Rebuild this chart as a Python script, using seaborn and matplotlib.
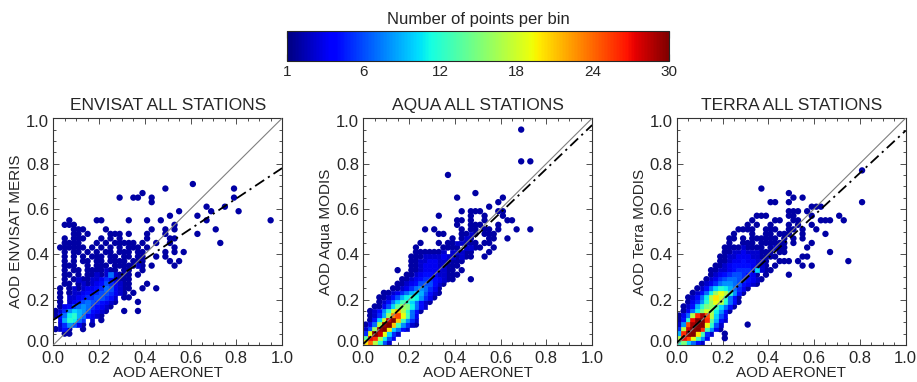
import matplotlib
matplotlib.use("Agg")
import matplotlib.pyplot as plt
from matplotlib.colors import Normalize
from matplotlib.cm import ScalarMappable
from matplotlib.ticker import MultipleLocator
from matplotlib.transforms import offset_copy
import pandas as pd
import seaborn as sns

BIN = 0.02
JET = matplotlib.colormaps["jet"]

# binned scatter, rows go from the highest y bin down to y bin 0,
# one character per x bin: '.' = empty, else base-36 digit = points in the bin
envisat_rows = [
    ".......... .......... .......... 1",
    ".......... .......... ....1..... .........1",
    ".......... .........1",
    ".......... ....1..11. .1........ .........1",
    ".......... .......... .1",
    ".......... .......... .......... ...1...1",
    ".......... .......... .......1.. ....1..... 1",
    ".......... .......... .....1.... .1",
    "...1.....1 1.....1... 1..1...... ...1...... .......1",
    "..111..... .......... ......1",
    "....111... .1........ .1..1.1... .....1",
    "....11.1.. ..111.1... 1...1..... .1",
    "..1.111... 1.1.1..... 1....11",
    "..1111...1 .1.11111.1 ..1..1.... ......1",
    ".111111.1. 1.1.1.111. 1.....1",
    "..1.11.1.1 .11.111.11 ....1.1.1",
    "..1.1.1.11 1.11.11.11 ..1.1",
    "..1.1.11.1 1.1111.111 .....1.1",
    "..111..1.1 11.1111121 .1....1",
    "..1.11.111 1211.11..1",
    "..11.1.112 1272111.1",
    "..1.121122 3542111",
    "..11.12123 4653211... 1",
    ".1.1212334 5763211..1 ..1",
    ".1.1223445 665321.1",
    ".1.2234556 6542.11",
    ".1.2346765 4321....1",
    ".134678754 321",
    "1258a98643 21...1..1",
    "147bc97432 1",
    ".39cb75.2. 1",
    ".258631.1",
    "1241..1",
    "..11",
    "",
    "",
]

aqua_rows = [
    ".......... .......... .......... ....1",
    "", "", "", "", "", "",
    ".......... .......... .......... ....1.1",
    "", "",
    ".......... ........1",
    "", "", "",
    ".......... .......... ....1",
    ".......... .......... 1......... 1",
    ".......... .......... .........1",
    ".......... .......... .......1",
    ".......... .......... .1.111...1 1",
    ".......... ......1... ...1..1... 1",
    ".......... .......... 11.1..1... .11",
    ".......... .......... 1..111...1",
    ".......... ...1.1.... .1.11.11.1 ...1..1",
    ".......... ......11.. .1121.111",
    ".......... .........1 .121...11. .1",
    ".......... ..1...1.11 22111.11",
    ".......... .1.....111 1.2211..1",
    ".......... .1111112.2 2211...1",
    ".......... 1112222322 1211..1",
    ".......... 1122332211 11",
    ".......... 1123332211 1",
    ".......1.. 1123332211 .1",
    ".........1 1234432211 1",
    "........11 2345543211 ...1",
    ".......112 34666421",
    "......1123 5787531",
    "....112357 9a96421",
    "...112469b cb8531",
    "...1247adc a7421",
    "..1136aegf b742",
    ".1248cilhc 741",
    ".1259gnpjd 73",
    ".14aisuld8 52",
    "137htuld85 21",
    "26gtuka742",
    "5jusja52",
    "erqhb63",
    "kohc62",
]

terra_rows = [
    ".......... .......... .......... .......... 1",
    "", "", "",
    ".......... ........1",
    ".......... .......... ....1",
    ".......... .......... .....1.1",
    ".......... .......... 11..1..... .......... 1",
    ".......... .......... .........1 11",
    ".......... .......... ....111.1",
    ".......... .......111 ....11...1 .....1",
    ".......... ......1... .11..11... .111..1",
    ".......... .....1.1.. 1...1.1..1",
    ".......... ...1111..1 11..11.1.. 1",
    ".......... ..1...1..1 1.111..1.. ..1",
    ".......... .11.1.1111 11.1.1.1",
    ".......... .1..111.11 1111.1...1",
    ".......... 111121111. 1211....1",
    ".......... 1122322211 1.11...... ...1",
    ".........1 1223332211 11.....11",
    ".........1 1233433221 ..111.1... .......1",
    "........11 2344443221 .1.....1.1",
    ".......112 2345554a21 1",
    ".......123 45665431.1 ....1",
    "......1235 677654321",
    ".....12357 88764321",
    "....1247ac b97531",
    "...1247bgj hc841",
    "..1247bhki c741",
    "..1358cgjh c741",
    ".1249cfgda 741",
    ".137bfigb8 41",
    "137hqtpha6 3",
    "14cruuqe94 2",
    "28ptuujc62 .....1",
    "5hsuuqd831",
    "9quukd52.. 1",
    "hrpjd83... 1",
    "cfa742",
]

titles = ["ENVISAT ALL STATIONS", "AQUA ALL STATIONS", "TERRA ALL STATIONS"]
ylabels = ["AOD ENVISAT MERIS", "AOD Aqua MODIS", "AOD Terra MODIS"]
xlabel = "AOD AERONET"
fit_intercept = [0.11, 0.005, 0.01]
fit_slope = [0.67, 0.965, 0.935]
axis_ticks = [0.0, 0.2, 0.4, 0.6, 0.8, 1.0]

cbar_ticks = [0, 6, 12, 18, 24, 30]
cbar_labels = ["1", "6", "12", "18", "24", "30"]


def grid_to_frame(rows):
    recs = []
    n = len(rows)
    for k, row in enumerate(rows):
        j = n - 1 - k
        for i, ch in enumerate(row.replace(" ", "")):
            if ch != ".":
                recs.append(((i + 0.5) * BIN, (j + 0.5) * BIN, int(ch, 36)))
    return pd.DataFrame(recs, columns=["aeronet", "satellite", "count"])


def draw_panel(fig, ax, df, title, ylabel, b, m):
    df = df.sort_values("count")
    single = df[df["count"] == 1]
    multi = df[df["count"] > 1]
    sns.scatterplot(data=single, x="aeronet", y="satellite", hue="count", palette=JET,
                    hue_norm=(0, 30), marker="o", s=21, linewidth=0, legend=False, ax=ax)
    sns.scatterplot(data=multi, x="aeronet", y="satellite", hue="count", palette=JET,
                    hue_norm=(0, 30), marker="s", s=11, linewidth=0.5, edgecolor="face",
                    legend=False, ax=ax)
    ax.axline((0, 0), slope=1, color="#808080", lw=0.8, zorder=3)
    ax.axline((0, b), slope=m, color="black", lw=1.3, ls=(0, (6, 2.5, 1.2, 2.5)), zorder=4)

    ax.set_xlim(0, 1)
    ax.set_ylim(0, 1)
    ax.set_xticks(axis_ticks, [f"{t:.1f}" for t in axis_ticks])
    ax.set_yticks(axis_ticks, [f"{t:.1f}" for t in axis_ticks])
    ax.xaxis.set_minor_locator(MultipleLocator(0.05))
    ax.yaxis.set_minor_locator(MultipleLocator(0.05))
    ax.tick_params(which="both", direction="in", top=True, right=True, width=0.6,
                   color="#333333", labelsize=12)
    ax.tick_params(which="major", length=4, pad=3)
    ax.tick_params(axis="x", which="major", pad=4)
    ax.tick_params(which="minor", length=2.5)
    # nudge the end labels inward a little, like the original
    yt = ax.yaxis.get_major_ticks()
    lab0 = yt[0].label1
    lab0.set_transform(offset_copy(lab0.get_transform(), fig=fig, y=4, units="dots"))
    lab1 = yt[-1].label1
    lab1.set_transform(offset_copy(lab1.get_transform(), fig=fig, y=-3, units="dots"))
    for sp in ax.spines.values():
        sp.set_color("#333333")
        sp.set_linewidth(0.8)
    ax.set_title(title, fontsize=12.5, pad=6)
    ax.set_xlabel(xlabel, fontsize=11, labelpad=0)
    ax.set_ylabel(ylabel, fontsize=11, labelpad=2)


def main():
    sns.set_style("ticks")
    plt.rcParams["font.family"] = ["Liberation Sans", "DejaVu Sans"]

    fig = plt.figure(figsize=(9.17, 3.82), dpi=100)
    lefts = [0.0581, 0.3962, 0.738]
    frames = [grid_to_frame(r) for r in (envisat_rows, aqua_rows, terra_rows)]
    for k in range(3):
        ax = fig.add_axes([lefts[k], 0.0969, 0.2495, 0.5935])
        draw_panel(fig, ax, frames[k], titles[k], ylabels[k], fit_intercept[k], fit_slope[k])

    cax = fig.add_axes([0.3133, 0.841, 0.4166, 0.0777])
    sm = ScalarMappable(norm=Normalize(0, 30), cmap=JET)
    cb = fig.colorbar(sm, cax=cax, orientation="horizontal")
    cb.set_ticks(cbar_ticks, labels=cbar_labels)
    cax.xaxis.set_minor_locator(MultipleLocator(3))
    cax.tick_params(which="both", direction="in", top=True, bottom=True, length=5,
                    width=0.8, color="black", labelsize=11, pad=3)
    cb.outline.set_linewidth(0.8)
    cax.set_title("Number of points per bin", fontsize=12, pad=5)

    fig.savefig("out.png", dpi=100)
    plt.close(fig)


if __name__ == "__main__":
    main()
